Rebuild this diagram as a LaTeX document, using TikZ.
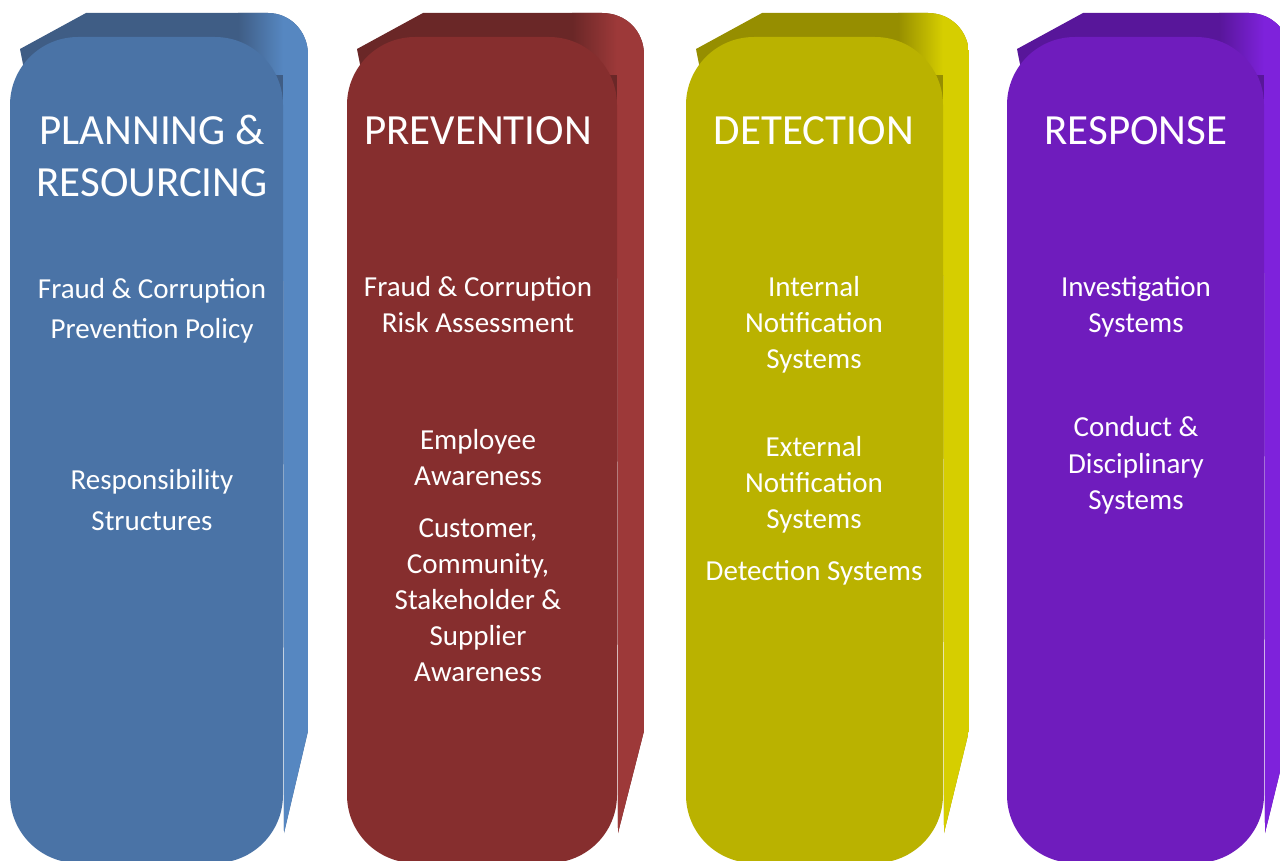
\documentclass[tikz,border=0pt]{standalone}
\usepackage{fontspec}
\setmainfont{Carlito}
\definecolor{planfront}{HTML}{4A73A6}
\definecolor{plantop}{HTML}{3F5D85}
\definecolor{planside}{HTML}{5687C1}
\definecolor{prevfront}{HTML}{862E2E}
\definecolor{prevtop}{HTML}{6A2727}
\definecolor{prevside}{HTML}{9D3939}
\definecolor{detefront}{HTML}{BAB200}
\definecolor{detetop}{HTML}{968E00}
\definecolor{deteside}{HTML}{D6CE00}
\definecolor{respfront}{HTML}{6F1CBD}
\definecolor{resptop}{HTML}{58169A}
\definecolor{respside}{HTML}{7E22DB}

\begin{document}
\begin{tikzpicture}[x=0.5pt, y=-0.5pt,
    heading/.style={text=white, inner sep=0pt, align=center, font=\fontsize{21.5}{26}\selectfont},
    item/.style={text=white, inner sep=0pt, align=center, font=\fontsize{14.5}{18}\selectfont},
    looseitem/.style={item, font=\fontsize{14.5}{20.5}\selectfont},
  ]
  \useasboundingbox (0,0) rectangle (1280,861);

  % four extruded pillars: back cap, lit side, then the front face
  \foreach \L/\R/\s/\c in {10/283/25/plan, 347/617/27/prev, 686/943/26/dete, 1007/1264/26/resp} {
    \begin{scope}
      \clip ({\L+10},49) -- ({\L+76},13) -- ({\R-15},13)
        .. controls ({\R+\s-18},13) and ({\R+\s},31) .. ({\R+\s},55)
        -- ({\R+\s},731) -- ({\R+1},833) -- (\R,100) -- ({\L+20},100) -- cycle;
      \fill[\c top] (\L,0) rectangle ({\R+\s},870);
      \shade[left color=\c top, right color=\c side] ({\R-45},0) rectangle (\R,75);
      \fill[\c side] (\R,0) rectangle ({\R+\s},870);
    \end{scope}
    \fill[\c front, rounded corners=34] (\L,37) rectangle (\R,863);
  }

  % headings (base = last line)
  \node[heading, anchor=base] (plan) at (152,197) {PLANNING \&\\RESOURCING};
  \node[heading, anchor=base] (prev) at (478,145) {PREVENTION};
  \node[heading, anchor=base] (dete) at (814,145) {DETECTION};
  \node[heading, anchor=base] (resp) at (1136,145) {RESPONSE};

  % planning & resourcing
  \node[looseitem, anchor=base] (policy) at (152,339) {Fraud \& Corruption\\Prevention Policy};
  \node[looseitem, anchor=base] (struct) at (152,530) {Responsibility\\Structures};

  % prevention
  \node[item, anchor=base] (risk) at (478,333) {Fraud \& Corruption\\Risk Assessment};
  \node[item, anchor=base] (staff) at (478,485) {Employee\\Awareness};
  \node[item, anchor=base] (extern) at (478,681) {Customer,\\Community,\\Stakeholder \&\\Supplier\\Awareness};

  % detection
  \node[item, anchor=base] (intnote) at (814,369) {Internal\\Notification\\Systems};
  \node[item, anchor=base] (extnote) at (814,528) {External\\Notification\\Systems};
  \node[item, anchor=base] (detsys) at (814,580) {Detection Systems};

  % response
  \node[item, anchor=base] (invest) at (1136,333) {Investigation\\Systems};
  \node[item, anchor=base] (conduct) at (1136,509) {Conduct \&\\Disciplinary\\Systems};
\end{tikzpicture}
\end{document}
